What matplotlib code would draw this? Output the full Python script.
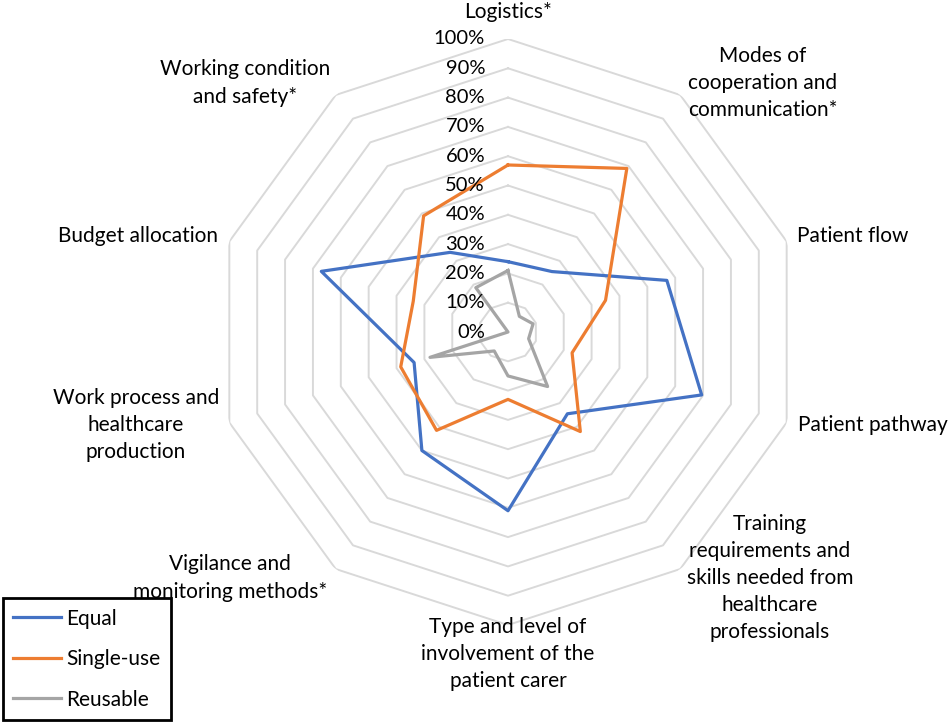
import numpy as np
import matplotlib
matplotlib.use("Agg")
import matplotlib.pyplot as plt
from matplotlib.transforms import offset_copy

plt.rcParams["font.family"] = ["Lato", "DejaVu Sans"]

# Data (in %)
categories = [
    "Logistics*",
    "Modes of\ncooperation and\ncommunication*",
    "Patient flow",
    "Patient pathway",
    "Training\nrequirements and\nskills needed from\nhealthcare\nprofessionals",
    "Type and level of\ninvolvement of the\npatient carer",
    "Vigilance and\nmonitoring methods*",
    "Work process and\nhealthcare\nproduction",
    "Budget allocation",
    "Working condition\nand safety*",
]
equal = [24, 25.5, 57, 69.5, 34.5, 61, 50, 33.7, 67, 33.6]
single_use = [57, 69, 35, 23, 42, 23, 41.5, 38.5, 34, 49]
reusable = [21, 6.6, 9, 7.4, 23, 15, 8, 28, 0, 18.7]
ticks = list(range(0, 101, 10))

# label centres in pixels (x, y from top)
label_pos = [(508, 12), (763, 83), (853, 236), (873, 425), (770, 578),
             (508, 654), (230, 578), (136, 425), (138, 236), (245, 83)]

W, H = 948, 723
fig = plt.figure(figsize=(W / 100, H / 100), dpi=100)
cx, cy, R = 508, 332, 293
ax = fig.add_axes([(cx - R) / W, (H - cy - R) / H, 2 * R / W, 2 * R / H],
                  projection="polar")
ax.set_theta_zero_location("N")
ax.set_theta_direction(-1)
ax.set_ylim(0, 100)
ax.grid(False)
ax.set_xticks([])
ax.set_yticks([])
ax.spines["polar"].set_visible(False)

n = len(categories)
angles = np.linspace(0, 2 * np.pi, n, endpoint=False)
closed = np.append(angles, angles[0])

# decagon rings
for t in ticks[1:]:
    ax.plot(closed, [t] * (n + 1), color="#d9d9d9", lw=1.4, zorder=1)

def close(v):
    return list(v) + [v[0]]

ax.plot(closed, close(equal), color="#4472C4", lw=2.3, label="Equal", zorder=3)
ax.plot(closed, close(single_use), color="#ED7D31", lw=2.3, label="Single-use", zorder=3)
ax.plot(closed, close(reusable), color="#A5A5A5", lw=2.3, label="Reusable", zorder=3)

# radial labels
tr = offset_copy(ax.transData, fig=fig, x=-23, y=0, units="dots")
for t in ticks:
    ax.text(0, t, f"{t}%", transform=tr, ha="right", va="center",
            fontsize=14.5, color="#000000", zorder=4)

for lab, (x, y) in zip(categories, label_pos):
    fig.text(x / W, 1 - y / H, lab, ha="center", va="center",
             fontsize=15, linespacing=1.45, multialignment="center")

leg = fig.legend(loc="lower left", bbox_to_anchor=(3 / W, 3 / H),
                 borderaxespad=0, fancybox=False, fontsize=15,
                 handlelength=2.3, labelspacing=0.98, borderpad=0.5,
                 handletextpad=0.25, edgecolor="black", framealpha=1)
leg.get_frame().set_linewidth(2)

fig.savefig("out.png", dpi=100)
